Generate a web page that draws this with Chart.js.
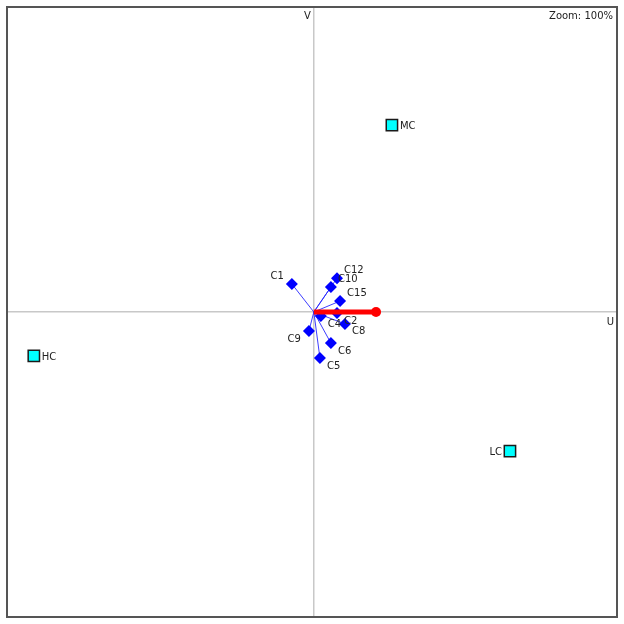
<!DOCTYPE html>
<html>
<head>
<meta charset="utf-8">
<script src="https://cdn.jsdelivr.net/npm/chart.js@4.4.1/dist/chart.umd.min.js"></script>
<style>
  html, body { margin: 0; padding: 0; background: #fff; }
  #wrap { width: 624px; height: 624px; position: relative; }
</style>
</head>
<body>
<div id="wrap"><canvas id="biplot"></canvas></div>
<script>
// variables (blue vectors from origin)
const varNames = ['C1', 'C12', 'C10', 'C15', 'C4', 'C2', 'C8', 'C9', 'C6', 'C5']
const varU = [-0.072, 0.076, 0.056, 0.086, 0.023, 0.076, 0.102, -0.016, 0.056, 0.02]
const varV = [0.092, 0.111, 0.082, 0.036, -0.013, -0.003, -0.039, -0.062, -0.102, -0.151]

// samples (cyan squares)
const sampleNames = ['HC', 'MC', 'LC']
const sampleU = [-0.918, 0.256, 0.643]
const sampleV = [-0.144, 0.613, -0.456]

// supplementary vector (red)
const suppU = [0, 0.204]
const suppV = [0, 0]

const axisNames = { x: 'U', y: 'V' }

// which side the label goes, -1 left / +1 right
const sampleLabelSide = { HC: 1, MC: 1, LC: -1 }

const blue = '#0000ff'

let datasets = []

// thin lines from origin to each variable
varNames.forEach((name, i) => {
    datasets.push({
        type: 'line',
        data: [{ x: 0, y: 0 }, { x: varU[i], y: varV[i] }],
        borderColor: 'rgba(40, 40, 255, 0.9)',
        borderWidth: 1,
        pointRadius: 0,
        order: 3
    })
})

datasets.push({
    type: 'scatter',
    label: 'variables',
    data: varNames.map((n, i) => ({ x: varU[i], y: varV[i] })),
    pointStyle: 'rectRot',
    pointRadius: 6,
    backgroundColor: blue,
    borderColor: blue,
    borderWidth: 0,
    order: 2
})

datasets.push({
    type: 'scatter',
    label: 'samples',
    data: sampleNames.map((n, i) => ({ x: sampleU[i], y: sampleV[i] })),
    pointStyle: 'rect',
    pointRadius: 8,
    backgroundColor: '#00ffff',
    borderColor: '#1a1a1a',
    borderWidth: 1.5,
    order: 2
})

datasets.push({
    type: 'line',
    label: 'supp',
    data: suppU.map((u, i) => ({ x: u, y: suppV[i] })),
    borderColor: '#ff0000',
    borderWidth: 5,
    pointRadius: [0, 5],
    pointBorderWidth: 0,
    pointBackgroundColor: '#ff0000',
    pointBorderColor: '#ff0000',
    order: 0
})

// frame, axis names and point labels
const decorations = {
    id: 'decorations',
    afterDatasetsDraw(chart) {
        const ctx = chart.ctx
        const area = chart.chartArea
        const xs = chart.scales.x
        const ys = chart.scales.y
        ctx.save()

        ctx.font = '10px "DejaVu Sans"'
        ctx.fillStyle = '#222'
        ctx.textBaseline = 'middle'

        // variable labels
        const vmeta = chart.getDatasetMeta(varNames.length)
        vmeta.data.forEach((pt, i) => {
            const left = varU[i] < 0
            const up = varV[i] > 0
            ctx.textAlign = left ? 'right' : 'left'
            ctx.fillText(varNames[i], pt.x + (left ? -8 : 7), pt.y + (up ? -8 : 8))
        })

        // sample labels
        const smeta = chart.getDatasetMeta(varNames.length + 1)
        smeta.data.forEach((pt, i) => {
            const side = sampleLabelSide[sampleNames[i]]
            ctx.textAlign = side < 0 ? 'right' : 'left'
            ctx.fillText(sampleNames[i], pt.x + side * 8, pt.y + 1)
        })

        // axis names
        const x0 = xs.getPixelForValue(0)
        const y0 = ys.getPixelForValue(0)
        ctx.textAlign = 'right'
        ctx.fillText(axisNames.y, x0 - 3, area.top + 9)
        ctx.fillText(axisNames.x, area.right - 3, y0 + 10)
        ctx.fillText('Zoom: 100%', area.right - 4, area.top + 9)

        // frame
        ctx.strokeStyle = '#555'
        ctx.lineWidth = 2
        ctx.strokeRect(area.left, area.top, area.right - area.left, area.bottom - area.top)
        ctx.restore()
    }
}

function zeroLine(c) {
    return c.tick && c.tick.value === 0 ? '#c8c8c8' : 'rgba(0,0,0,0)'
}

new Chart(document.getElementById('biplot'), {
    type: 'scatter',
    data: { datasets: datasets },
    options: {
        responsive: true,
        maintainAspectRatio: false,
        animation: false,
        layout: { autoPadding: false, padding: { left: 7, top: 7, right: 7, bottom: 7 } },
        plugins: {
            legend: { display: false },
            tooltip: { enabled: false }
        },
        scales: {
            x: {
                min: -1.006, max: 0.994,
                ticks: { display: false, stepSize: 1 },
                afterBuildTicks: s => { s.ticks = [{ value: 0 }] },
                grid: { color: zeroLine, lineWidth: 1.5, drawTicks: false },
                border: { display: false }
            },
            y: {
                min: -1, max: 1,
                ticks: { display: false, stepSize: 1 },
                grid: { color: zeroLine, lineWidth: 1.5, drawTicks: false },
                border: { display: false }
            }
        }
    },
    plugins: [decorations]
})
</script>
</body>
</html>
